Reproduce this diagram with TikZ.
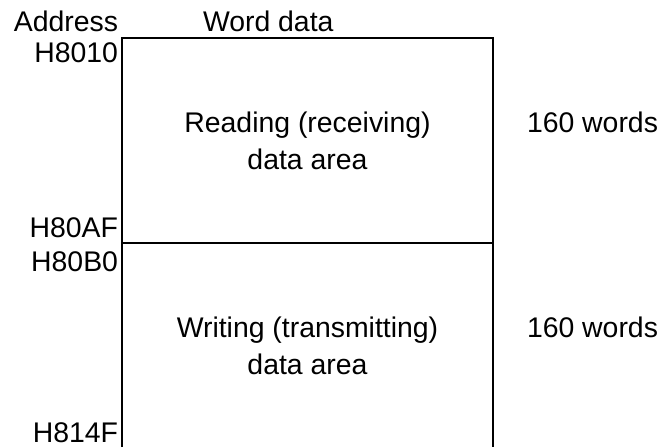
\documentclass[tikz,border=0pt]{standalone}
\usepackage{fontspec}
\setmainfont{Liberation Sans}
\begin{document}
\begin{tikzpicture}[x=0.75pt,y=-0.75pt,
  lbl/.style={inner sep=0pt,outer sep=0pt,font=\fontsize{21.3pt}{25pt}\selectfont},
  addr/.style={lbl,anchor=base east},
  area/.style={lbl,anchor=base},
  cnt/.style={lbl,anchor=base west},
  wall/.style={line width=1.5pt}]
\useasboundingbox (0,0) rectangle (660,447);
\coordinate (bl) at (122,447);
\coordinate (tl) at (122,38);
\coordinate (tr) at (493,38);
\coordinate (br) at (493,447);
\coordinate (ml) at (122,243);
\coordinate (mr) at (493,243);
\draw[wall] (bl) -- (tl) -- (tr) -- (br);
\draw[wall] (ml) -- (mr);
\node[addr] (haddr) at (118,31) {Address};
\node[lbl,anchor=base west] (hword) at (203,31) {Word data};
\node[addr] (a1) at (118,62) {H8010};
\node[addr] (a2) at (118,237) {H80AF};
\node[addr] (a3) at (118,271) {H80B0};
\node[addr] (a4) at (118,442) {H814F};
\node[area] (r1) at (307.5,132) {Reading (receiving)};
\node[area] (r2) at (307.5,169) {data area};
\node[area] (w1) at (307.5,337) {Writing (transmitting)};
\node[area] (w2) at (307.5,374) {data area};
\node[cnt] (c1) at (527,132) {160 words};
\node[cnt] (c2) at (527,337) {160 words};
\end{tikzpicture}
\end{document}
